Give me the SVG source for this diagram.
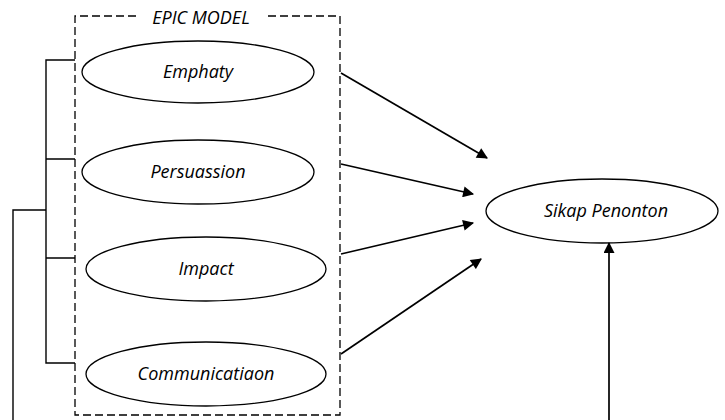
<svg xmlns="http://www.w3.org/2000/svg" width="725" height="420" viewBox="0 0 725 420">
<defs>
<style>
.t{font-family:"Open Sans","Noto Sans",sans-serif;font-style:italic;font-size:18px;fill:#000;text-anchor:middle}
.e{fill:#fff;stroke:#000;stroke-width:1.3}
.l{fill:none;stroke:#000;stroke-width:1.4}
.a{fill:none;stroke:#000;stroke-width:1.7;marker-end:url(#ah)}
</style>
<marker id="ah" viewBox="0 0 10 10" refX="9" refY="5" markerWidth="13" markerHeight="11" markerUnits="userSpaceOnUse" orient="auto">
<path d="M0,0 L10,5 L0,10 z" fill="#000"/>
</marker>
</defs>
<rect width="725" height="420" fill="#fff"/>
<g id="epic-model">
<path d="M136,16 H75 V415 H340 V16 H268" fill="none" stroke="#000" stroke-width="1.3" stroke-dasharray="8,4"/>
<text class="t" x="201" y="24">EPIC MODEL</text>
</g>
<g id="emphaty"><ellipse class="e" cx="198" cy="72" rx="116" ry="31"/><text class="t" x="198" y="78">Emphaty</text></g>
<g id="persuassion"><ellipse class="e" cx="198" cy="172" rx="116" ry="32"/><text class="t" x="198" y="178">Persuassion</text></g>
<g id="impact"><ellipse class="e" cx="206" cy="269" rx="120" ry="32"/><text class="t" x="206" y="275">Impact</text></g>
<g id="communicatiaon"><ellipse class="e" cx="206" cy="374" rx="120" ry="32"/><text class="t" x="206" y="380">Communicatiaon</text></g>
<g id="sikap-penonton"><ellipse class="e" cx="602" cy="211" rx="116" ry="32"/><text class="t" x="606" y="217">Sikap Penonton</text></g>
<g id="connectors">
<path class="l" d="M75,60 H46 V363 H75 M46,159 H75 M46,258 H75 M46,210 H13 V420"/>
<line class="a" x1="341" y1="73" x2="487" y2="158"/>
<line class="a" x1="341" y1="164" x2="473" y2="194"/>
<line class="a" x1="341" y1="254" x2="473" y2="223"/>
<line class="a" x1="341" y1="354" x2="481" y2="259"/>
<line class="a" x1="609" y1="420" x2="609" y2="243"/>
</g>
</svg>
